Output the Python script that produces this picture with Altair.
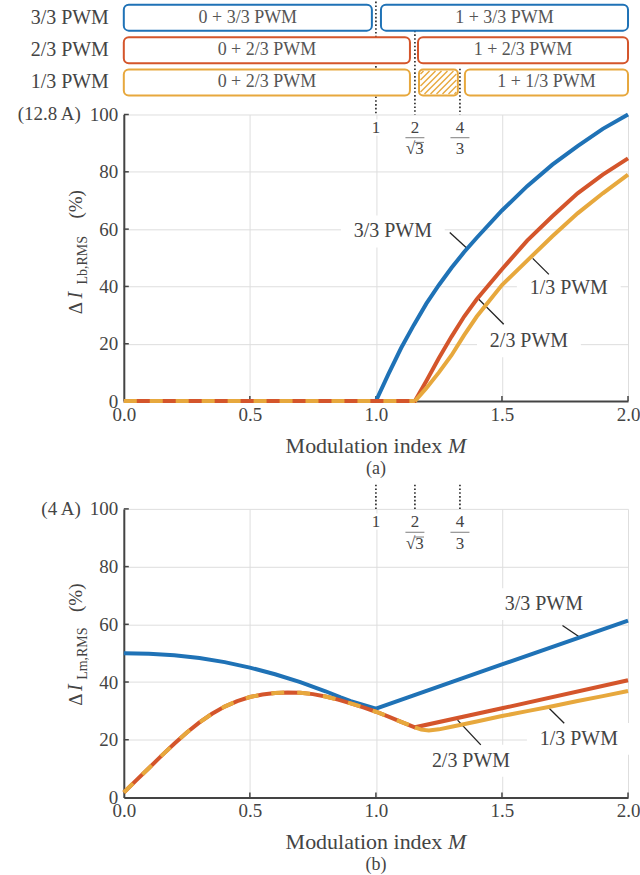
import altair as alt
import pandas as pd

FONT = "Liberation Serif"
TXT = "#444444"
BOXTXT = "#555555"
BLUE = "#1f72b6"
RED = "#d4552b"
YEL = "#e7a83d"
GRID = "#dedede"
AXC = "#444444"

W, HA, HB = 505, 287, 289
XMAX = 2.0

# ---------------- data ----------------
x_ticks = [0.0, 0.5, 1.0, 1.5, 2.0]
y_ticks = [0, 20, 40, 60, 80, 100]

ref_m = [1.0, 1.1547, 1.3333]            # M = 1, 2/sqrt(3), 4/3
ref_top_a = [139.4, 129.3, 116.0]
ref_top_b = [108.4, 108.4, 108.4]

# panel (a)  Delta I_Lb,RMS
a_blue_m = [0.0, 1.0, 1.05, 1.1, 1.15, 1.2, 1.25, 1.3, 1.35, 1.4, 1.5, 1.6, 1.7, 1.8, 1.9, 2.0]
a_blue_v = [0, 0, 9.5, 18.5, 26.5, 34, 40.5, 46.5, 52, 57, 66.5, 75, 82.5, 89, 95, 100]
a_red_m = [0.0, 1.1547, 1.2, 1.25, 1.3, 1.35, 1.4, 1.5, 1.6, 1.7, 1.8, 1.9, 2.0]
a_red_v = [0, 0, 7, 15, 22.5, 29.5, 35.5, 46, 56, 64.5, 72.5, 79, 84.7]
a_shared_m = [0.0, 1.1547]
a_shared_v = [0, 0]
a_yel_m = [1.1547, 1.2, 1.25, 1.3, 1.35, 1.4, 1.5, 1.6, 1.7, 1.8, 1.9, 2.0]
a_yel_v = [0, 4.5, 10, 16, 23, 29.5, 40.5, 49, 57.5, 65.5, 72.5, 79]

# panel (b)  Delta I_Lm,RMS
b_blue_m = [0.0, 0.1, 0.2, 0.3, 0.4, 0.5, 0.6, 0.7, 0.8, 0.86, 0.9, 1.0, 1.5, 2.0]
b_blue_v = [50, 49.8, 49.3, 48.3, 46.9, 45, 42.7, 40, 36.8, 34.7, 33.4, 30.8, 46.1, 61.3]
b_shared_m = [0.0, 0.05, 0.1, 0.15, 0.2, 0.25, 0.3, 0.35, 0.4, 0.45, 0.5, 0.55, 0.6,
              0.65, 0.7, 0.75, 0.8, 0.85, 0.9, 0.95, 1.0, 1.05, 1.1, 1.1547]
b_shared_v = [1.7, 6, 10.2, 14.5, 18.6, 22.5, 26, 29, 31.5, 33.4, 34.8, 35.7, 36.2,
              36.4, 36.3, 35.8, 35, 33.9, 32.6, 31.2, 29.7, 28.0, 26.2, 24.3]
b_red_m = [1.1547, 1.5, 2.0]
b_red_v = [24.3, 30.9, 40.6]
b_yel_m = [1.1547, 1.18, 1.21, 1.25, 1.3, 1.4, 1.5, 1.6, 1.7, 1.8, 1.9, 2.0]
b_yel_v = [24.3, 23.5, 23.2, 23.6, 24.5, 26.3, 28.2, 29.9, 31.6, 33.4, 35.1, 36.9]

# curve labels and leader lines
lab_text = ["3/3 PWM", "1/3 PWM", "2/3 PWM"]
a_lab_m = [1.067, 1.765, 1.607]
a_lab_v = [59.2, 39.3, 20.9]
a_lead_m = [1.293, 1.622, 1.408]
a_lead_v = [58.8, 49.8, 35.5]
a_lead_m2 = [1.361, 1.686, 1.507]
a_lead_v2 = [53.3, 44.2, 26.8]
b_lab_m = [1.666, 1.805, 1.377]
b_lab_v = [67.0, 20.3, 12.7]
b_lead_m = [1.740, 1.687, 1.324]
b_lead_v = [59.6, 30.9, 26.8]
b_lead_m2 = [1.806, 1.747, 1.416]
b_lead_v2 = [55.7, 25.7, 18.2]

# switching-mode band above panel (a)
row_names = ["3/3 PWM", "2/3 PWM", "1/3 PWM"]
row_colors = [BLUE, RED, YEL]
row_center = [133.8, 122.4, 111.2]
box_row = [0, 0, 1, 1, 2, 2]
box_x0 = [0.0, 1.02, 0.0, 1.167, 0.0, 1.353]
box_x1 = [0.984, 2.0, 1.135, 2.0, 1.135, 2.0]
box_text = ["0 + 3/3 PWM", "1 + 3/3 PWM", "0 + 2/3 PWM", "1 + 2/3 PWM", "0 + 2/3 PWM", "1 + 1/3 PWM"]
hatch_x = [1.171, 1.325]

# ---------------- helpers ----------------
XAXIS = alt.Axis(values=x_ticks, format=".1f", title=None, ticks=False, labelFlush=False,
                 grid=True, gridColor=GRID, gridWidth=1, domainColor=AXC, domainWidth=2,
                 labelFont=FONT, labelFontSize=19, labelColor=TXT, labelPadding=4)
YAXIS = alt.Axis(values=y_ticks, format="d", title=None, ticks=False, labelFlush=False,
                 grid=True, gridColor=GRID, gridWidth=1, domainColor=AXC, domainWidth=2,
                 labelFont=FONT, labelFontSize=19, labelColor=TXT, labelPadding=6)
XS = alt.Scale(domain=[0, XMAX], nice=False, zero=False)
YS = alt.Scale(domain=[0, 100], nice=False, zero=False)


def X(f):
    return alt.X(f"{f}:Q", scale=XS, axis=XAXIS)


def Y(f):
    return alt.Y(f"{f}:Q", scale=YS, axis=YAXIS)


def line(ms, vs, color, dash=None):
    df = pd.DataFrame({"m": ms, "v": vs})
    kw = dict(color=color, strokeWidth=4, strokeCap="butt", clip=False)
    if dash:
        kw["strokeDash"] = dash
    return alt.Chart(df).mark_line(**kw).encode(x=X("m"), y=Y("v"), order=alt.Order("m:Q"))


def px_text(text, x, y, size=19, align="center", baseline="middle", angle=0, style="normal", color=TXT):
    df = pd.DataFrame({"t": [text]})
    kw = dict(font=FONT, fontSize=size, align=align, baseline=baseline, color=color, fontStyle=style)
    if angle:
        kw["angle"] = angle
    return alt.Chart(df).mark_text(**kw).encode(text="t:N", x=alt.value(x), y=alt.value(y))


def inward_ticks(h):
    dx = pd.DataFrame({"m": x_ticks[1:]})
    dy = pd.DataFrame({"v": y_ticks[1:]})
    tx = alt.Chart(dx).mark_rule(color=AXC, strokeWidth=1.5).encode(
        x=X("m"), y=alt.value(h), y2=alt.value(h - 5))
    ty = alt.Chart(dy).mark_rule(color=AXC, strokeWidth=1.5).encode(
        y=Y("v"), x=alt.value(0), x2=alt.value(5))
    return [tx, ty]


def labels(lm, lv, l1m, l1v, l2m, l2v, h):
    hw = 52 / W * XMAX
    hh = 16 / h * 100
    df = pd.DataFrame({"t": lab_text, "m": lm, "v": lv})
    df["m0"] = df["m"] - hw
    df["m1"] = df["m"] + hw
    df["v0"] = df["v"] - hh
    df["v1"] = df["v"] + hh
    bg = alt.Chart(df).mark_rect(color="white").encode(x=X("m0"), x2="m1:Q", y=Y("v0"), y2="v1:Q")
    txt = alt.Chart(df).mark_text(font=FONT, fontSize=20, color=TXT).encode(x=X("m"), y=Y("v"), text="t:N")
    dl = pd.DataFrame({"m": l1m, "v": l1v, "m2": l2m, "v2": l2v})
    lead = alt.Chart(dl).mark_rule(color="#222222", strokeWidth=1.3).encode(
        x=X("m"), y=Y("v"), x2="m2:Q", y2="v2:Q")
    return [bg, lead, txt]


def ref_marks(tops, h):
    dr = pd.DataFrame({"m": ref_m, "top": tops, "bot": [100] * 3})
    dots = alt.Chart(dr).mark_rule(color="#222222", strokeWidth=1.6, strokeDash=[1.6, 2.2]).encode(
        x=X("m"), y=Y("top"), y2="bot:Q")
    dn = pd.DataFrame({"m": ref_m, "t": ["1", "2", "4"], "v": [95.4] * 3})
    num = alt.Chart(dn).mark_text(font=FONT, fontSize=17, color=TXT, stroke="white", strokeWidth=5).encode(
        x=X("m"), y=Y("v"), text="t:N")
    num2 = alt.Chart(dn).mark_text(font=FONT, fontSize=17, color=TXT).encode(
        x=X("m"), y=Y("v"), text="t:N")
    dd = pd.DataFrame({"m": ref_m[1:], "t": ["\u221a3", "3"], "v": [87.9] * 2})
    den = alt.Chart(dd).mark_text(font=FONT, fontSize=17, color=TXT, stroke="white", strokeWidth=5).encode(
        x=X("m"), y=Y("v"), text="t:N")
    den2 = alt.Chart(dd).mark_text(font=FONT, fontSize=17, color=TXT).encode(
        x=X("m"), y=Y("v"), text="t:N")
    db = pd.DataFrame({"m": ref_m[1:], "v": [91.9] * 2})
    bar = alt.Chart(db).mark_tick(orient="horizontal", size=19, thickness=1, color=TXT).encode(
        x=X("m"), y=Y("v"))
    # vinculum of the square root
    dv = pd.DataFrame({"m": [ref_m[1] + 4.6 / W * XMAX], "v": [87.9 + 6.8 / h * 100]})
    vinc = alt.Chart(dv).mark_tick(orient="horizontal", size=9, thickness=1, color=TXT).encode(
        x=X("m"), y=Y("v"))
    return [dots, num, den, num2, den2, bar, vinc]


def y_title(sub, pos):
    # pos: centers (px from plot top) of "(%)", subscript, "I", "Δ"
    return [
        px_text("(%)", -48, pos[0], size=19, angle=270),
        px_text(sub, -41, pos[1], size=14, angle=270),
        px_text("I", -48, pos[2], size=20, angle=270, style="italic"),
        px_text("\u0394", -48, pos[3], size=19, angle=270),
    ]


def x_title(h, tag):
    fs = 22
    wmain = 7.139 * fs
    wsp = 0.25 * fs
    wm = 0.833 * fs
    left = W / 2 - (wmain + wsp + wm) / 2
    return [
        px_text("Modulation index", left, h + 45, size=fs, align="left"),
        px_text("M", left + wmain + wsp, h + 45, size=fs, align="left", style="italic"),
        px_text(tag, W / 2, h + 68, size=18),
    ]


# ---------------- band above panel (a) ----------------
hh_box = 13 / HA * 100
dfb = pd.DataFrame({"x0": box_x0, "x1": box_x1, "t": box_text,
                    "row": box_row})
dfb["c"] = [row_center[r] for r in box_row]
dfb["y0"] = dfb["c"] - hh_box
dfb["y1"] = dfb["c"] + hh_box
dfb["xc"] = (dfb["x0"] + dfb["x1"]) / 2
dfb["col"] = [row_colors[r] for r in box_row]

boxes = alt.Chart(dfb).mark_rect(fill="white", strokeWidth=2, cornerRadius=5).encode(
    x=X("x0"), x2="x1:Q", y=Y("y0"), y2="y1:Q",
    stroke=alt.Stroke("col:N", scale=None))
box_txt = alt.Chart(dfb).mark_text(font=FONT, fontSize=18, color=BOXTXT).encode(
    x=X("xc"), y=Y("c"), text="t:N")

dfh = pd.DataFrame({"x0": [hatch_x[0]], "x1": [hatch_x[1]],
                    "y0": [row_center[2] - hh_box], "y1": [row_center[2] + hh_box]})
hatch_box = alt.Chart(dfh).mark_rect(fill="white", stroke=YEL, strokeWidth=2, cornerRadius=4).encode(
    x=X("x0"), x2="x1:Q", y=Y("y0"), y2="y1:Q")

# hatch stripes (decoration geometry in pixels -> data units)
pw = (hatch_x[1] - hatch_x[0]) / XMAX * W
ph = 26.0
ins = 1.5
st = []
c = -ph
while c < pw:
    xa = max(ins, c + ins)
    xb = min(pw - ins, ph - ins + c)
    if xb > xa:
        st.append((xa, xa - c, xb, xb - c))
    c += 6.0
y0h = row_center[2] - hh_box
dfs = pd.DataFrame({
    "m": [hatch_x[0] + s[0] / W * XMAX for s in st],
    "v": [y0h + s[1] / HA * 100 for s in st],
    "m2": [hatch_x[0] + s[2] / W * XMAX for s in st],
    "v2": [y0h + s[3] / HA * 100 for s in st],
})
stripes = alt.Chart(dfs).mark_rule(color=YEL, strokeWidth=1.4).encode(
    x=X("m"), y=Y("v"), x2="m2:Q", y2="v2:Q")

dfr = pd.DataFrame({"t": row_names, "v": row_center})
row_lab = alt.Chart(dfr).mark_text(font=FONT, fontSize=20, color=TXT, align="right").encode(
    x=alt.value(-15), y=Y("v"), text="t:N")

# ---------------- panel (a) ----------------
layers_a = [
    *labels(a_lab_m, a_lab_v, a_lead_m, a_lead_v, a_lead_m2, a_lead_v2, HA),
    *inward_ticks(HA),
    line(a_blue_m, a_blue_v, BLUE),
    line(a_red_m, a_red_v, RED),
    line(a_shared_m, a_shared_v, YEL, dash=[13, 13]),
    line(a_yel_m, a_yel_v, YEL),
    *ref_marks(ref_top_a, HA),
    boxes, hatch_box, stripes, box_txt, row_lab,
    px_text("(12.8 A)", -43, 0, size=19, align="right"),
    *y_title("Lb,RMS", [90, 146, 181, 194]),
    *x_title(HA, "(a)"),
]
panel_a = alt.layer(*layers_a).properties(width=W, height=HA)

# ---------------- panel (b) ----------------
layers_b = [
    *labels(b_lab_m, b_lab_v, b_lead_m, b_lead_v, b_lead_m2, b_lead_v2, HB),
    *inward_ticks(HB),
    line(b_blue_m, b_blue_v, BLUE),
    line(b_shared_m + b_red_m[1:], b_shared_v + b_red_v[1:], RED),
    line(b_shared_m, b_shared_v, YEL, dash=[13, 13]),
    line(b_yel_m, b_yel_v, YEL),
    *ref_marks(ref_top_b, HB),
    px_text("(4 A)", -43, 0, size=19, align="right"),
    *y_title("Lm,RMS", [89, 145, 179, 191]),
    *x_title(HB, "(b)"),
]
panel_b = alt.layer(*layers_b).properties(width=W, height=HB)

chart = alt.vconcat(panel_a, panel_b, spacing=5).properties(
    padding={"left": 16, "top": 0, "right": 0, "bottom": 0}
).configure_view(stroke=None)

chart.save("out.html", embed_options={"renderer": "svg", "actions": False})
